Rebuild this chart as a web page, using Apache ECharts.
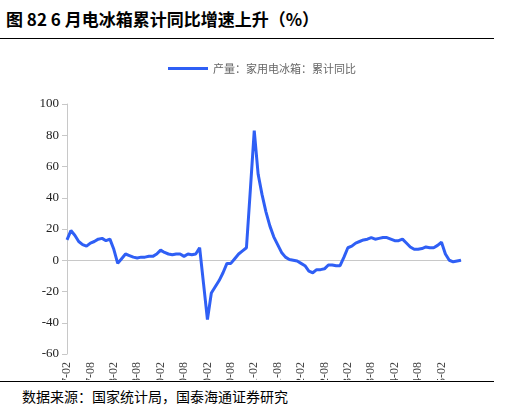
<html>
<head>
<meta charset="utf-8">
<script src="https://cdn.jsdelivr.net/npm/echarts@6/dist/echarts.min.js"></script>
<style>
* { margin: 0; padding: 0; }
body { width: 524px; height: 412px; background: #fff; position: relative; font-family: "Noto Sans CJK SC", serif; }
#title { position: absolute; left: 6px; top: 6px; font-size: 17px; font-weight: bold; color: #000; }
#line1 { position: absolute; left: 0; top: 38px; width: 494px; border-top: 1px solid #000; }
#line2 { position: absolute; left: 0; top: 381px; width: 494px; border-top: 1px solid #000; }
#src { position: absolute; left: 22px; top: 386px; font-size: 14px; color: #000; }
#main { position: absolute; left: 0; top: 40px; width: 524px; height: 340px; }
</style>
</head>
<body>
<div id="title">图 82 6 月电冰箱累计同比增速上升（%）</div>
<div id="line1"></div>
<div id="main"></div>
<div id="line2"></div>
<div id="src">数据来源：国家统计局，国泰海通证券研究</div>
<script>
let values = [
    13, 19, 16, 12, 10, 9, 11, 12, 13.5, 14, 12.5,
    13.5, 7, -2, 1, 4, 3, 2, 1.5, 2, 2, 2.5, 2.5,
    4, 6.5, 5, 4, 3.5, 4, 4, 2.5, 4, 3.5, 4, 8,
    -15, -38, -21, -17, -13, -8, -2, -2, 1, 4, 6, 8,
    45, 83, 55, 42, 31, 22, 15, 10, 5, 2, 0.5, 0,
    -0.5, -2, -3.5, -7, -8, -6, -6, -5.5, -3, -3, -3.5, -3.5,
    2, 8, 9, 11, 12, 13, 13.5, 14.5, 13.5, 14, 14.5, 14.5,
    13.5, 12.5, 12.5, 13.5, 11, 8.5, 7, 7, 7.5, 8.5, 8, 8,
    9.5, 11.5, 4, 0, -1, -0.5, 0
];
let months = [];
for (let y = 2017, m = 2; months.length < values.length; m++) {
    if (m > 12) { m = 1; y++; }
    months.push(y + '-' + (m < 10 ? '0' + m : m));
}
let myChart = echarts.init(document.getElementById('main'));
myChart.setOption({
    animation: false,
    legend: {
        top: 18, left: 'center',
        data: ['产量：家用电冰箱：累计同比'],
        itemWidth: 40, itemHeight: 3,
        icon: 'rect',
        textStyle: { color: '#666', fontSize: 11, fontFamily: 'Noto Sans CJK SC' }
    },
    grid: { left: 67, right: 63, top: 64, bottom: 26, containLabel: false, outerBoundsMode: 'none' },
    xAxis: {
        type: 'category', data: months, boundaryGap: false,
        axisLine: { onZero: true, lineStyle: { color: '#c8c8c8' } },
        axisTick: { show: false },
        axisLabel: {
            rotate: 90, interval: 5, color: '#444', fontSize: 12,
            fontFamily: 'Liberation Serif'
        }
    },
    yAxis: {
        type: 'value', min: -60, max: 100, interval: 20,
        splitLine: { show: false },
        axisLine: { show: true, lineStyle: { color: '#c8c8c8' } },
        axisTick: { show: true, lineStyle: { color: '#c8c8c8' } },
        axisLabel: { color: '#222', fontSize: 13, fontFamily: 'Liberation Serif' }
    },
    series: [{
        name: '产量：家用电冰箱：累计同比', type: 'line', data: values,
        showSymbol: false, lineStyle: { color: '#2f5ff5', width: 3 },
        itemStyle: { color: '#2f5ff5' }
    }]
});
</script>
</body>
</html>
